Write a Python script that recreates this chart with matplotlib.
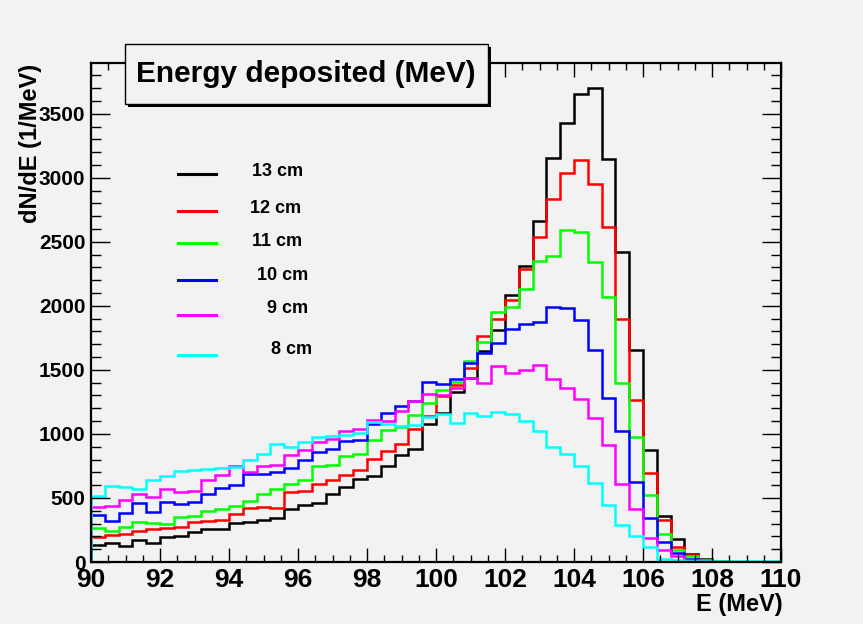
import numpy as np
import matplotlib
matplotlib.use("Agg")
import matplotlib.pyplot as plt
from matplotlib.ticker import MultipleLocator
from matplotlib.lines import Line2D
from matplotlib.patches import Rectangle

# ---------------- data ----------------
e_min, e_max, n_bins = 90.0, 110.0, 50

h13 = [133, 152, 122, 168, 148, 197, 202, 232, 255, 260,
       306, 314, 330, 347, 410, 447, 461, 533, 586, 645,
       672, 750, 834, 886, 1076, 1167, 1329, 1440, 1649, 1810,
       2083, 2310, 2664, 3156, 3424, 3651, 3698, 3146, 2417, 1654,
       878, 357, 180, 62, 24, 6, 3, 2, 1, 1]
h12 = [196, 207, 220, 240, 258, 264, 275, 313, 322, 330,
       376, 420, 430, 424, 550, 555, 612, 640, 680, 722,
       808, 865, 925, 1042, 1141, 1295, 1381, 1516, 1766, 1901,
       2044, 2284, 2534, 2831, 3039, 3138, 2951, 2617, 1901, 1266,
       695, 331, 117, 57, 18, 5, 2, 1, 1, 0]
h11 = [268, 245, 270, 311, 305, 293, 352, 361, 398, 410,
       437, 473, 531, 573, 608, 638, 751, 758, 828, 840,
       956, 1029, 1055, 1146, 1243, 1341, 1407, 1571, 1714, 1953,
       1992, 2130, 2349, 2388, 2596, 2573, 2344, 2070, 1399, 977,
       521, 221, 91, 44, 13, 4, 2, 1, 0, 0]
h10 = [365, 322, 386, 458, 391, 465, 453, 466, 534, 575,
       600, 685, 690, 705, 736, 795, 860, 882, 943, 951,
       1081, 1167, 1217, 1256, 1407, 1388, 1427, 1550, 1628, 1711,
       1823, 1862, 1875, 1992, 1984, 1888, 1655, 1280, 1024, 625,
       346, 156, 70, 26, 8, 3, 1, 1, 0, 0]
h9 = [430, 436, 485, 530, 508, 570, 548, 556, 638, 677,
      748, 700, 748, 754, 836, 873, 934, 964, 1021, 1038,
      1110, 1099, 1180, 1256, 1315, 1307, 1355, 1433, 1401, 1528,
      1477, 1498, 1537, 1427, 1360, 1270, 1125, 917, 607, 415,
      190, 91, 44, 18, 6, 2, 1, 1, 0, 0]
h8 = [518, 592, 584, 568, 640, 672, 713, 716, 728, 737,
      738, 798, 841, 925, 899, 940, 977, 985, 990, 1008,
      1090, 1081, 1060, 1068, 1133, 1154, 1089, 1167, 1141, 1168,
      1159, 1099, 1021, 899, 847, 750, 617, 448, 292, 202,
      117, 26, 13, 8, 6, 5, 5, 4, 4, 4]

labels = ["13 cm", "12 cm", "11 cm", "10 cm", "9 cm", "8 cm"]
series = [h13, h12, h11, h10, h9, h8]
colors = ["#000000", "#ff0000", "#00ff00", "#0000ff", "#ff00ff", "#00ffff"]

title = "Energy deposited (MeV)"
xlabel = "E (MeV)"
ylabel = "dN/dE (1/MeV)"

# ---------------- figure ----------------
W, H = 863, 624
BG = "#f2f2f2"
plt.rcParams['font.family'] = ['Liberation Sans', 'DejaVu Sans']
plt.rcParams['font.weight'] = 'bold'

fig = plt.figure(figsize=(W / 100, H / 100), dpi=100, facecolor=BG)

def fx(px):
    return px / W

def fy(py):
    return 1 - py / H

ax_l, ax_r, ax_t, ax_b = 91, 781, 63, 562
ax = fig.add_axes([fx(ax_l), fy(ax_b), fx(ax_r - ax_l), (ax_b - ax_t) / H])
ax.set_facecolor(BG)

edges = np.linspace(e_min, e_max, n_bins + 1)
for vals, c in zip(series, colors):
    ax.stairs(vals, edges, baseline=0, color=c, lw=1.8)

ax.set_xlim(e_min, e_max)
ax.set_ylim(0, 3896)

ax.xaxis.set_major_locator(MultipleLocator(2))
ax.xaxis.set_minor_locator(MultipleLocator(0.5))
ax.yaxis.set_major_locator(MultipleLocator(500))
ax.yaxis.set_minor_locator(MultipleLocator(100))

ax.tick_params(which='both', direction='in', top=True, right=True, width=1.0)
ax.tick_params(axis='x', which='major', length=10, labelsize=19, pad=4)
ax.tick_params(axis='x', which='minor', length=5)
ax.tick_params(axis='y', which='major', length=14, labelsize=15, pad=4)
ax.tick_params(axis='y', which='minor', length=7)
for lab in ax.get_xticklabels() + ax.get_yticklabels():
    lab.set_fontweight('bold')
for sp in ax.spines.values():
    sp.set_linewidth(1.6)

# axis titles (ROOT style, aligned to the ends)
fig.text(fx(783), fy(604), xlabel, ha='right', va='center', fontsize=17, fontweight='bold')
fig.text(fx(30), fy(64), ylabel, ha='center', va='top', rotation=90, fontsize=17, fontweight='bold')

# title box with shadow
bx0, bx1, by0, by1 = 125, 488, 44, 104
fig.add_artist(Rectangle((fx(bx0 + 3), fy(by1 + 3)), fx(bx1 - bx0), (by1 - by0) / H,
                         transform=fig.transFigure, facecolor='black', edgecolor='black', lw=0, zorder=5))
fig.add_artist(Rectangle((fx(bx0), fy(by1)), fx(bx1 - bx0), (by1 - by0) / H,
                         transform=fig.transFigure, facecolor=BG, edgecolor='black', lw=1.0, zorder=6))
fig.text(fx(306), fy(74), title, ha='center', va='center', fontsize=21.5, fontweight='bold', zorder=7)

# legend (no frame)
line_y = [174, 210.7, 243.3, 280, 315.3, 355]
text_y = [171.7, 209, 241.7, 276, 308.7, 350]
text_x = [252, 250, 252, 257, 267, 271]
for lab, c, ly, ty, tx in zip(labels, colors, line_y, text_y, text_x):
    fig.add_artist(Line2D([fx(178), fx(216)], [fy(ly), fy(ly)], transform=fig.transFigure,
                          color=c, lw=2.2, zorder=8))
    fig.text(fx(tx), fy(ty), lab, ha='left', va='center', fontsize=13, fontweight='bold', zorder=8)

fig.savefig("out.png", dpi=100, facecolor=BG)
